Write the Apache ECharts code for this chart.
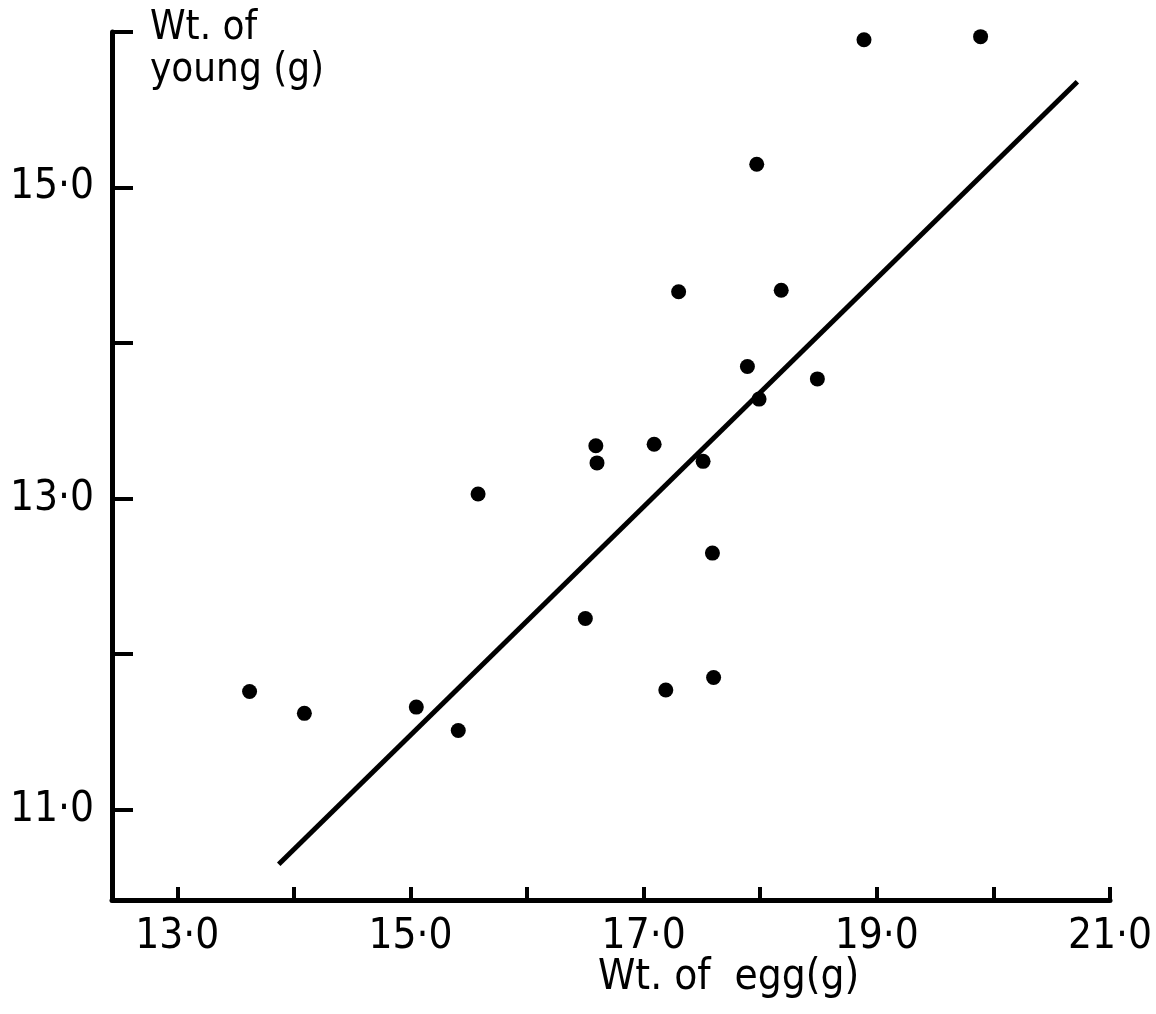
<!DOCTYPE html>
<html>
<head>
<meta charset="utf-8">
<title>Wt. of young vs Wt. of egg</title>
<script src="https://cdn.jsdelivr.net/npm/echarts@6/dist/echarts.min.js"></script>
<style>
    html, body { margin: 0; padding: 0; background: #fff; }
    #chart { width: 1156px; height: 1014px; }
</style>
</head>
<body>
<div id="chart"></div>
<script>
// egg weight (g) and weight of young (g)
var eggWt = [13.62, 14.09, 15.05, 15.41, 15.58, 16.50, 16.59, 16.60, 17.09, 17.19, 17.30,
    17.51, 17.59, 17.60, 17.89, 17.97, 17.99, 18.18, 18.49, 18.89, 19.89];
var youngWt = [11.76, 11.62, 11.66, 11.51, 13.03, 12.23, 13.34, 13.23, 13.35, 11.77, 14.33,
    13.24, 12.65, 11.85, 13.85, 15.15, 13.64, 14.34, 13.77, 15.95, 15.97];

// fitted line, two end points
var fitX = [13.87, 20.72];
var fitY = [10.65, 15.68];

// ticks and labels
var xTicks = [13, 14, 15, 16, 17, 18, 19, 20, 21];
var xLabels = [13, 15, 17, 19, 21];
var yTicks = [11, 12, 13, 14, 15, 16];
var yLabels = [11, 13, 15];

var font = "'DejaVu Sans Condensed', 'DejaVu Sans', sans-serif";

function fmt(v) {
    return Number(v).toFixed(1).replace('.', '·');
}

var pts = eggWt.map(function (x, i) { return [x, youngWt[i]]; });
var fit = fitX.map(function (x, i) { return [x, fitY[i]]; });

var chart = echarts.init(document.getElementById('chart'));
var option = {
    backgroundColor: '#fff',
    animation: false,
    grid: { left: 112, right: 46, top: 32, bottom: 114, containLabel: false },
    xAxis: {
        type: 'value',
        min: 12.44,
        max: 21,
        splitLine: { show: false },
        axisLine: { lineStyle: { color: '#000', width: 5 } },
        axisTick: {
            inside: true, length: 13, customValues: xTicks,
            lineStyle: { color: '#000', width: 4 }
        },
        axisLabel: {
            customValues: xLabels, formatter: fmt, margin: 16,
            color: '#000', fontSize: 42, fontFamily: font
        }
    },
    yAxis: {
        type: 'value',
        min: 10.42,
        max: 16,
        splitLine: { show: false },
        axisLine: { lineStyle: { color: '#000', width: 5 } },
        axisTick: {
            inside: true, length: 21, customValues: yTicks,
            lineStyle: { color: '#000', width: 4 }
        },
        axisLabel: {
            customValues: yLabels, formatter: fmt, margin: 18,
            color: '#000', fontSize: 42, fontFamily: font
        }
    },
    graphic: [
        {
            type: 'text', left: 598, top: 957,
            style: { text: 'Wt. of  egg(g)', fill: '#000', font: '42px ' + font }
        },
        {
            type: 'text', left: 150, top: 8,
            style: { text: 'Wt. of\nyoung (g)', fill: '#000', font: '40px ' + font, lineHeight: 42 }
        }
    ],
    series: [
        {
            type: 'line',
            data: fit,
            symbol: 'none',
            lineStyle: { color: '#000', width: 5 },
            z: 2
        },
        {
            type: 'scatter',
            data: pts,
            symbol: 'circle',
            symbolSize: 15,
            itemStyle: { color: '#000', opacity: 1 },
            z: 3
        }
    ]
};
chart.setOption(option);
</script>
</body>
</html>
